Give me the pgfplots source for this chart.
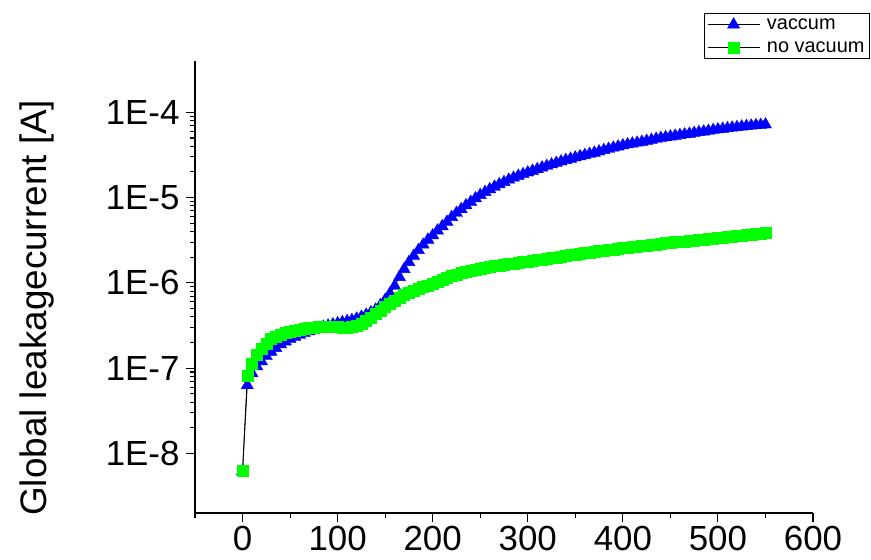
\documentclass[border=0pt]{standalone}
\usepackage{pgfplots}
\pgfplotsset{compat=1.18}
\usepackage{fontspec}
\setmainfont{Liberation Sans}
\begin{document}
\begin{tikzpicture}
\path[use as bounding box] (-195bp,-47bp) rectangle (676bp,513bp);
\begin{axis}[
  scale only axis,
  width=618bp, height=452bp,
  at={(0,0)}, anchor=south west,
  ymode=log,
  xmin=-50, xmax=600,
  ymin=2e-9, ymax=4e-4,
  axis lines*=left,
  axis line style={line width=1.3bp},
  tick style={line width=1.1bp, black},
  tick align=outside,
  major tick length=9bp,
  minor tick length=5bp,
  xtick={0,100,200,300,400,500,600},
  minor xtick={-50,50,150,250,350,450,550},
  ytick={1e-8,1e-7,1e-6,1e-5,1e-4},
  yticklabels={1E-8,1E-7,1E-6,1E-5,1E-4},
  /pgf/number format/assume math mode=true,
  ticklabel style={font=\fontsize{35}{40}\selectfont},
  xticklabel style={yshift=-1bp},
  yticklabel style={xshift=-3bp},
  ylabel={Global leakagecurrent [A]},
  ylabel style={font=\fontsize{37}{42}\selectfont, at={(axis description cs:-0.256,0.454)}, anchor=center},
  legend style={at={(axis description cs:1.092,1.106)}, anchor=north east,
    font=\fontsize{20}{23}\selectfont, draw=black, line width=0.8bp, inner sep=3bp,
    row sep=7bp, cells={anchor=west},
    /tikz/every odd column/.append style={column sep=5bp}},
  legend image code/.code={\draw[mark repeat=2,mark phase=2,#1] plot coordinates {(0bp,0bp) (26bp,0bp) (52bp,0bp)};},
  clip=false,
]
\addplot[black, line width=0.8bp, mark=triangle*, mark size=7bp,
  mark options={fill=blue, draw=blue, line width=0.4bp}] coordinates {
(0,6.2e-9) (5,6.3e-8) (10,8.7e-8) (15,1.05e-7) (20,1.2e-7) (25,1.38e-7)
(30,1.55e-7) (35,1.72e-7) (40,1.9e-7) (45,2.05e-7) (50,2.2e-7) (55,2.33e-7)
(60,2.45e-7) (65,2.58e-7) (70,2.7e-7) (75,2.82e-7) (80,2.95e-7) (85,3.05e-7)
(90,3.15e-7) (95,3.25e-7) (100,3.35e-7) (105,3.45e-7) (110,3.55e-7) (115,3.65e-7)
(120,3.8e-7) (125,4.0e-7) (130,4.22e-7) (135,4.5e-7) (140,4.85e-7) (145,5.45e-7)
(150,6.3e-7) (155,7.5e-7) (160,9.2e-7) (165,1.17e-6) (170,1.45e-6) (175,1.75e-6)
(180,2.07e-6) (185,2.42e-6) (190,2.8e-6) (195,3.2e-6) (200,3.6e-6) (205,4.1e-6)
(210,4.6e-6) (215,5.2e-6) (220,5.9e-6) (225,6.6e-6) (230,7.3e-6) (235,8.1e-6)
(240,8.9e-6) (245,9.8e-6) (250,1.07e-5) (255,1.16e-5) (260,1.25e-5) (265,1.34e-5)
(270,1.43e-5) (275,1.52e-5) (280,1.62e-5) (285,1.71e-5) (290,1.8e-5) (295,1.88e-5)
(300,1.97e-5) (305,2.06e-5) (310,2.15e-5) (315,2.25e-5) (320,2.35e-5) (325,2.45e-5)
(330,2.55e-5) (335,2.65e-5) (340,2.75e-5) (345,2.85e-5) (350,2.95e-5) (355,3.05e-5)
(360,3.15e-5) (365,3.25e-5) (370,3.35e-5) (375,3.47e-5) (380,3.6e-5) (385,3.72e-5)
(390,3.85e-5) (395,3.97e-5) (400,4.1e-5) (405,4.2e-5) (410,4.3e-5) (415,4.4e-5)
(420,4.5e-5) (425,4.62e-5) (430,4.75e-5) (435,4.87e-5) (440,5.0e-5) (445,5.1e-5)
(450,5.2e-5) (455,5.3e-5) (460,5.4e-5) (465,5.5e-5) (470,5.6e-5) (475,5.72e-5)
(480,5.85e-5) (485,5.95e-5) (490,6.05e-5) (495,6.17e-5) (500,6.3e-5) (505,6.4e-5)
(510,6.5e-5) (515,6.6e-5) (520,6.7e-5) (525,6.8e-5) (530,6.9e-5) (535,6.97e-5)
(540,7.05e-5) (545,7.12e-5) (550,7.2e-5)
};
\addlegendentry{vaccum}
\addplot[black, line width=0.8bp, mark=square*, mark size=5.5bp,
  mark options={fill=green, draw=green, line width=0.4bp}] coordinates {
(0,6.3e-9) (5,8.1e-8) (10,1.13e-7) (15,1.45e-7) (20,1.7e-7) (25,1.95e-7)
(30,2.2e-7) (35,2.36e-7) (40,2.5e-7) (45,2.6e-7) (50,2.7e-7) (55,2.78e-7)
(60,2.85e-7) (65,2.91e-7) (70,2.97e-7) (75,3.01e-7) (80,3.05e-7) (85,3.07e-7)
(90,3.08e-7) (95,3.07e-7) (100,3.05e-7) (105,3.02e-7) (110,3.0e-7) (115,3.05e-7)
(120,3.15e-7) (125,3.35e-7) (130,3.6e-7) (135,3.93e-7) (140,4.3e-7) (145,4.75e-7)
(150,5.2e-7) (155,5.7e-7) (160,6.2e-7) (165,6.7e-7) (170,7.2e-7) (175,7.65e-7)
(180,8.1e-7) (185,8.5e-7) (190,8.9e-7) (195,9.35e-7) (200,9.8e-7) (205,1.03e-6)
(210,1.08e-6) (215,1.14e-6) (220,1.2e-6) (225,1.25e-6) (230,1.3e-6) (235,1.34e-6)
(240,1.38e-6) (245,1.42e-6) (250,1.46e-6) (255,1.5e-6) (260,1.53e-6) (265,1.57e-6)
(270,1.6e-6) (275,1.63e-6) (280,1.66e-6) (285,1.69e-6) (290,1.72e-6) (295,1.75e-6)
(300,1.78e-6) (305,1.81e-6) (310,1.85e-6) (315,1.88e-6) (320,1.92e-6) (325,1.96e-6)
(330,2.0e-6) (335,2.04e-6) (340,2.08e-6) (345,2.12e-6) (350,2.16e-6) (355,2.2e-6)
(360,2.24e-6) (365,2.28e-6) (370,2.32e-6) (375,2.36e-6) (380,2.4e-6) (385,2.44e-6)
(390,2.48e-6) (395,2.52e-6) (400,2.56e-6) (405,2.6e-6) (410,2.64e-6) (415,2.68e-6)
(420,2.72e-6) (425,2.76e-6) (430,2.8e-6) (435,2.84e-6) (440,2.88e-6) (445,2.92e-6)
(450,2.96e-6) (455,3.0e-6) (460,3.04e-6) (465,3.08e-6) (470,3.12e-6) (475,3.16e-6)
(480,3.2e-6) (485,3.24e-6) (490,3.28e-6) (495,3.32e-6) (500,3.36e-6) (505,3.4e-6)
(510,3.45e-6) (515,3.5e-6) (520,3.55e-6) (525,3.6e-6) (530,3.65e-6) (535,3.7e-6)
(540,3.75e-6) (545,3.82e-6) (550,3.9e-6)
};
\addlegendentry{no vacuum}
\end{axis}
\end{tikzpicture}
\end{document}
